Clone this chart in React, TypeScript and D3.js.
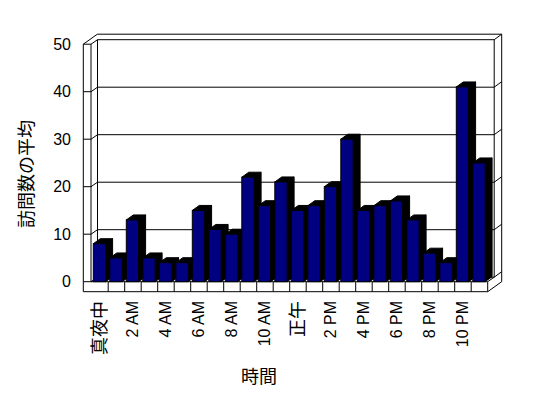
import React from "react";
import * as d3 from "d3";

const hours: number[] = d3.range(24);
const visits: number[] = [8, 5, 13, 5, 4, 4, 15, 11, 10, 22, 16, 21, 15, 16, 20, 30, 15, 16, 17, 13, 6, 4, 41, 25];
const xTickLabels: string[] = ["真夜中", "2 AM", "4 AM", "6 AM", "8 AM", "10 AM", "正午", "2 PM", "4 PM", "6 PM", "8 PM", "10 PM"];
const yTicks: number[] = [0, 10, 20, 30, 40, 50];
const yTitle = "訪問数の平均";
const xTitle = "時間";

const W = 548, H = 398;
const FONT = "'Liberation Sans', Arial, 'Noto Sans CJK JP', sans-serif";

export default function App() {
  const x = d3.scaleBand<number>().domain(hours).range([91.7, 487.7]).padding(0);
  const y = d3.scaleLinear().domain([0, 50]).range([281.7, 44.2]);
  const bw = x.bandwidth();
  const outerL = 83.3, innerL = 91;
  const xR = 487.7;
  const d = { dx: 6.5, dy: -4.5 };
  const D = { dx: 14, dy: -10 };
  const bd = { dx: 7, dy: -5 };
  const y0 = y(0), y50 = y(50);
  const floorB = y0 + 10;
  const bl = innerL + d.dx; // back inner left
  const br = xR + d.dx; // back inner right
  const lines: [number, number, number, number][] = [];
  // outer frame
  lines.push([outerL, y50, outerL + D.dx, y50 + D.dy]);
  lines.push([outerL + D.dx, y50 + D.dy, xR + D.dx, y50 + D.dy]);
  lines.push([xR + D.dx, y50 + D.dy, xR + D.dx, floorB + D.dy]);
  lines.push([innerL, y50, bl, y50 + d.dy]);
  lines.push([bl, y50 + d.dy, br, y50 + d.dy]);
  lines.push([br, y50 + d.dy, xR + D.dx, y50 + D.dy]);
  lines.push([br, y50 + d.dy, br, y0 + d.dy]);
  lines.push([bl, y50 + d.dy, bl, y0 + d.dy]);
  lines.push([outerL, y50, outerL, floorB]);
  lines.push([innerL, y50, innerL, y0]);
  lines.push([outerL, y50, innerL, y50]);
  // gridlines
  [0, 10, 20, 30, 40].forEach((v) => {
    const yy = y(v);
    lines.push([outerL, yy, innerL, yy]);
    lines.push([innerL, yy, bl, yy + d.dy]);
    lines.push([bl, yy + d.dy, br, yy + d.dy]);
    lines.push([br, yy + d.dy, xR + D.dx, yy + D.dy]);
  });
  // floor
  lines.push([innerL, y0, xR, y0]);
  lines.push([outerL, floorB, xR, floorB]);
  lines.push([xR, y0, xR, floorB]);
  lines.push([xR, floorB, xR + D.dx, floorB + D.dy]);
  lines.push([xR, y0, br, y0 + d.dy]);
  hours.forEach((h) => {
    const xx = x(h)!;
    if (h > 0) lines.push([xx, y0, xx, floorB]);
  });

  const bx0 = 1.6, bwid = 12.3;

  return (
    <svg width={W} height={H} style={{ position: "absolute", left: 0, top: 0, background: "#fff" }} fontFamily={FONT}>
      <rect x={0} y={0} width={W} height={H} fill="#fff" />
      {lines.map((l, i) => (
        <line key={i} x1={l[0]} y1={l[1]} x2={l[2]} y2={l[3]} stroke="#000" strokeWidth={1} />
      ))}
      {hours.map((h, i) => {
        const xl = x(h)! + bx0;
        const xr = xl + bwid;
        const yt = y(visits[i]);
        const side = `${xl},${yt} ${xr},${yt} ${xr + bd.dx},${yt + bd.dy} ${xl + bd.dx},${yt + bd.dy} ${xl},${yt}`;
        const side2 = `${xr},${yt} ${xr + bd.dx},${yt + bd.dy} ${xr + bd.dx},${y0 + bd.dy} ${xr},${y0}`;
        return (
          <g key={h}>
            <polygon points={side} fill="#000" stroke="#000" strokeWidth={1} />
            <polygon points={side2} fill="#000" stroke="#000" strokeWidth={1} />
            <rect x={xl} y={yt} width={bwid} height={y0 - yt} fill="#000080" stroke="#000" strokeWidth={1} />
          </g>
        );
      })}
      {yTicks.map((v) => (
        <text key={v} x={71} y={y(v)} textAnchor="end" dominantBaseline="central" fontSize={16} fill="#000">
          {v}
        </text>
      ))}
      {xTickLabels.map((t, i) => {
        const h = hours[i * 2];
        const cx = x(h)! + bw / 2;
        const cjk = /[^\x00-\x7F]/.test(t);
        return (
          <text key={t} transform={`translate(${cx},301) rotate(-90)`} textAnchor="end" dominantBaseline="central" fontSize={cjk ? 18 : 16} fill="#000">
            {t}
          </text>
        );
      })}
      <text transform="translate(27,174) rotate(-90)" textAnchor="middle" dominantBaseline="central" fontSize={18} fill="#000">
        {yTitle}
      </text>
      <text x={259} y={377} textAnchor="middle" dominantBaseline="central" fontSize={18} fill="#000">
        {xTitle}
      </text>
    </svg>
  );
}
